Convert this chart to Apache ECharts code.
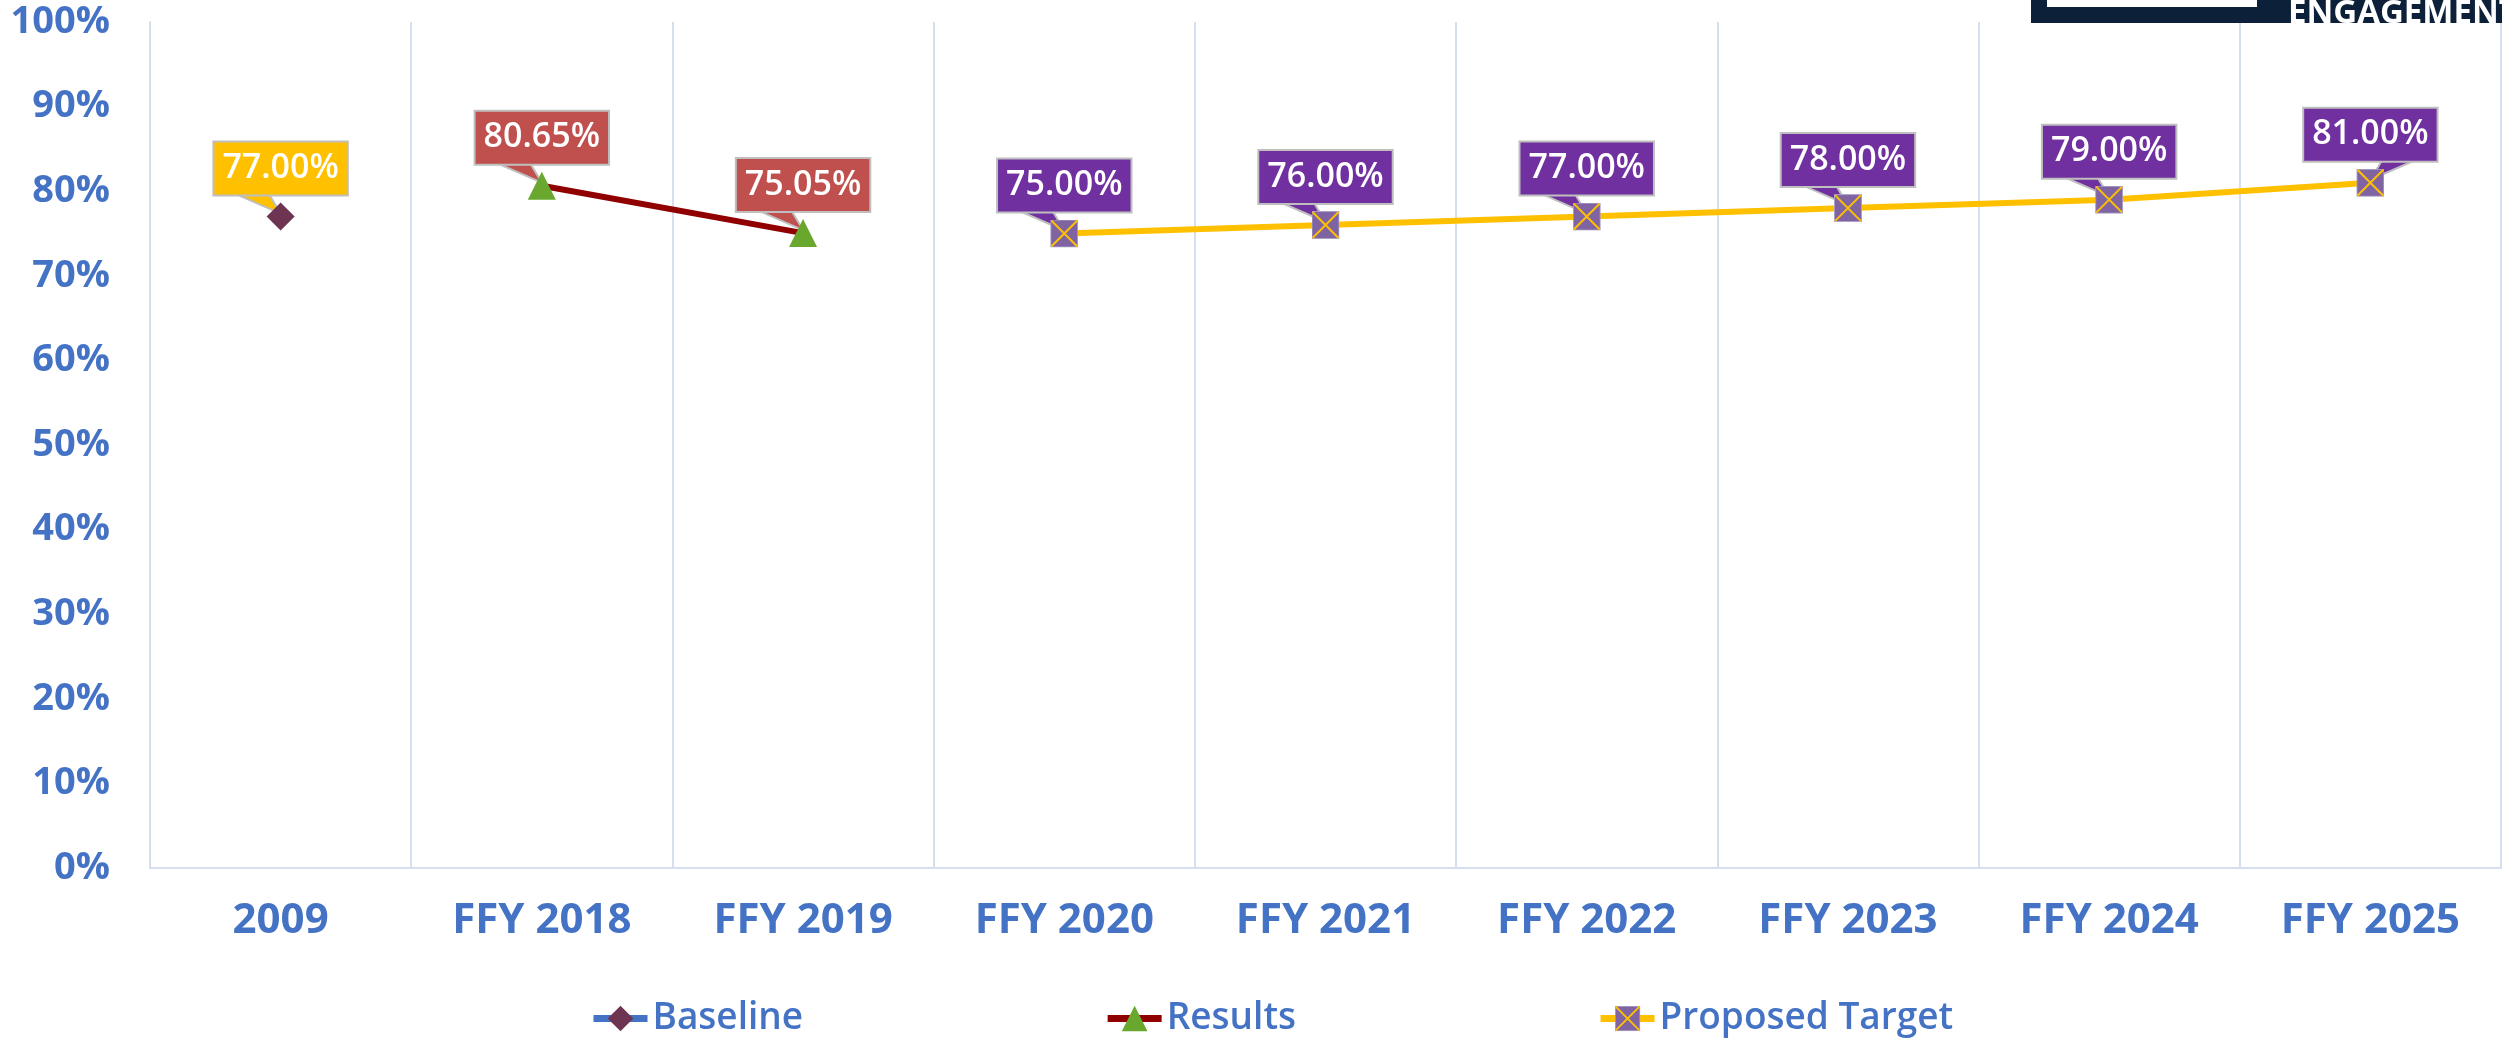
<!DOCTYPE html>
<html>
<head>
<meta charset="utf-8">
<script src="https://cdn.jsdelivr.net/npm/echarts@6/dist/echarts.min.js"></script>
<style>
  html, body { margin: 0; padding: 0; background: #fff; }
  #main { width: 2502px; height: 1041px; }
</style>
</head>
<body>
<div id="main"></div>
<script>
// chart data
const categories = ['2009', 'FFY 2018', 'FFY 2019', 'FFY 2020', 'FFY 2021', 'FFY 2022', 'FFY 2023', 'FFY 2024', 'FFY 2025']
const baseline = [77.0, null, null, null, null, null, null, null, null]
const results = [null, 80.65, 75.05, null, null, null, null, null, null]
const proposedTarget = [null, null, null, 75.0, 76.0, 77.0, 78.0, 79.0, 81.0]
const yMin = 0
const yMax = 100
const yStep = 10

const blue = '#4472C4'
const gridColor = '#D6DFF0'
const labelColors = ['#FFC000', '#C0504D', '#7030A0']

// purple square with a yellow cross, used for the target markers
const targetSymbol = 'image://data:image/svg+xml;utf8,' + encodeURIComponent(
  '<svg xmlns="http://www.w3.org/2000/svg" width="28" height="28">' +
  '<rect x="0.5" y="0.5" width="27" height="27" fill="#8064A2" stroke="#A9A0C8" stroke-width="1"/>' +
  '<path d="M1,1 L27,27 M27,1 L1,27" stroke="#FFC000" stroke-width="2"/></svg>')

// one callout pointer per labelled point
const pointerData = categories.map((c, i) => {
  if (baseline[i] != null) return [i, baseline[i], 0]
  if (results[i] != null) return [i, results[i], 1]
  return [i, proposedTarget[i], 2]
})

function dataLabel(bg) {
  return {
    show: true,
    position: 'top',
    distance: 8,
    formatter: (p) => p.value.toFixed(2) + '%',
    color: '#fff',
    fontFamily: 'Open Sans',
    fontWeight: 600,
    fontSize: 34,
    lineHeight: 38,
    backgroundColor: bg,
    borderColor: '#BFBFBF',
    borderWidth: 2,
    padding: [7, 8, 7, 8],
  }
}

const chart = echarts.init(document.getElementById('main'))
const option = {
  animation: false,
  backgroundColor: '#fff',
  grid: {
    left: 150,
    right: 1,
    top: 22,
    bottom: 173,
    outerBoundsMode: 'none',
  },
  legend: {
    data: ['Baseline', 'Results', 'Proposed Target'],
    left: 585,
    top: 995,
    itemGap: 301,
    itemWidth: 54,
    itemHeight: 32,
    lineStyle: { width: 7 },
    textStyle: { color: blue, fontFamily: 'Open Sans', fontWeight: 600, fontSize: 37 },
  },
  xAxis: {
    type: 'category',
    data: categories,
    boundaryGap: true,
    axisLine: { lineStyle: { color: gridColor, width: 2 } },
    axisTick: { show: false },
    splitLine: { show: true, interval: 0, lineStyle: { color: gridColor, width: 2 } },
    axisLabel: {
      color: blue,
      fontFamily: 'Open Sans',
      fontWeight: 'bold',
      fontSize: 42,
      margin: 32,
      interval: 0,
    },
  },
  yAxis: {
    type: 'value',
    min: yMin,
    max: yMax,
    interval: yStep,
    axisLine: { show: true, lineStyle: { color: gridColor, width: 2 } },
    axisTick: { show: false },
    splitLine: { show: false },
    axisLabel: {
      formatter: '{value}%',
      color: blue,
      fontFamily: 'Open Sans',
      fontWeight: 'bold',
      fontSize: 38,
      margin: 40,
    },
  },
  graphic: [
    { type: 'rect', shape: { x: 2031, y: 0, width: 471, height: 23 }, style: { fill: '#0C2039' }, z: 100 },
    { type: 'rect', shape: { x: 2047, y: 0, width: 210, height: 7 }, style: { fill: '#fff' }, z: 101 },
    {
      type: 'text',
      x: 2288,
      y: -3,
      z: 101,
      style: { text: 'ENGAGEMENT', fill: '#fff', font: 'bold 33px "Open Sans"', textVerticalAlign: 'alphabetic' },
    },
  ],
  series: [
    {
      name: 'pointers',
      type: 'custom',
      z: 1,
      clip: false,
      silent: true,
      encode: { x: 0, y: 1 },
      data: pointerData,
      renderItem: (params, api) => {
        const p = api.coord([api.value(0), api.value(1)])
        const side = params.dataIndex === categories.length - 1 ? 1 : -1
        const baseY = p[1] - 23
        return {
          type: 'polygon',
          shape: {
            points: [
              [p[0] + side * 46, baseY],
              [p[0] + side * 12, baseY],
              [p[0], p[1] - 3],
            ],
          },
          style: { fill: labelColors[api.value(2)], stroke: '#BFBFBF', lineWidth: 2 },
        }
      },
    },
    {
      name: 'Baseline',
      type: 'line',
      z: 3,
      data: baseline,
      symbol: 'diamond',
      symbolSize: 28,
      itemStyle: { color: '#6E3553' },
      lineStyle: { color: blue, width: 6 },
      label: dataLabel(labelColors[0]),
    },
    {
      name: 'Results',
      type: 'line',
      z: 3,
      data: results,
      symbol: 'triangle',
      symbolSize: 28,
      itemStyle: { color: '#6AA72F' },
      lineStyle: { color: '#900000', width: 6 },
      label: dataLabel(labelColors[1]),
    },
    {
      name: 'Proposed Target',
      type: 'line',
      z: 3,
      data: proposedTarget,
      symbol: targetSymbol,
      symbolSize: 28,
      itemStyle: { color: '#8064A2' },
      lineStyle: { color: '#FFC000', width: 6 },
      label: dataLabel(labelColors[2]),
    },
  ],
}
chart.setOption(option)
</script>
</body>
</html>
